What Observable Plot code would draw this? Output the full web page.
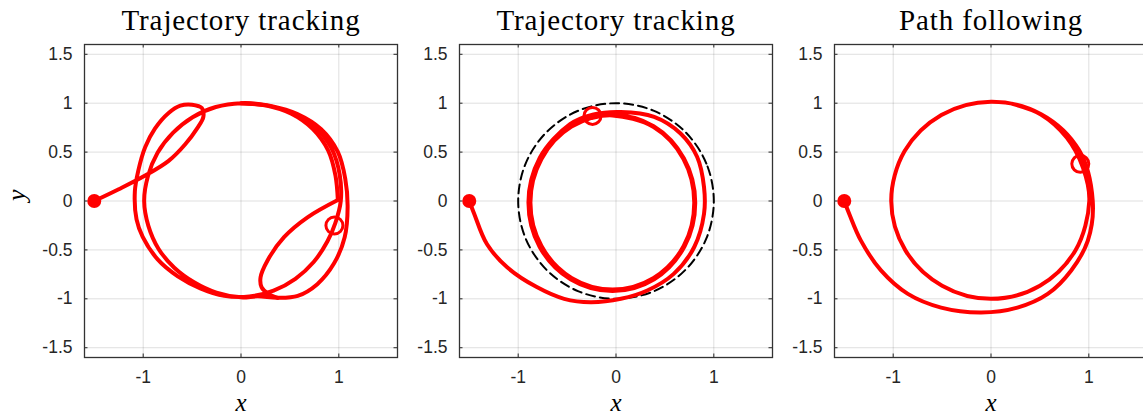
<!DOCTYPE html>
<html><head><meta charset="utf-8">
<script src="https://cdn.jsdelivr.net/npm/d3@7"></script>
<script src="https://cdn.jsdelivr.net/npm/@observablehq/plot@0.6"></script>
<style>
body{margin:0;background:#fff;}
#wrap{position:relative;width:1143px;height:416px;overflow:hidden;background:#fff;}
#wrap svg{position:absolute;top:0;}
</style></head><body><div id="wrap"></div>
<script>
// ---- data ----
const xTicks = [-1, 0, 1];
const yTicks = [-1.5, -1, -0.5, 0, 0.5, 1, 1.5];
const titles = ["Trajectory tracking", "Trajectory tracking", "Path following"];
const axisLabels = ["x", "y"];

// Panel 1: trajectory tracking (with loops)
const p1Main = [[-1.5,0],[-1.25,0.12],[-0.98,0.26],[-0.74,0.41],[-0.57,0.58],[-0.45,0.74],[-0.385,0.86],[-0.40,0.95],[-0.50,0.985],[-0.62,0.975],[-0.74,0.90],[-0.88,0.74],[-0.98,0.55],[-1.05,0.31],[-1.085,0.10],[-1.068,-0.188],[-1.005,-0.366],[-0.852,-0.597],[-0.646,-0.77],[-0.416,-0.893],[-0.171,-0.97],[0.085,-0.976],[0.333,-0.916],[0.556,-0.795],[0.743,-0.6235],[0.884,-0.412],[0.965,-0.223],[1.02,0],[1.009,0.27],[0.927,0.535],[0.757,0.757],[0.5225,0.905],[0.263,0.98],[0,1.0],[-0.2575,0.961],[-0.495,0.857],[-0.696,0.696],[-0.853,0.4925],[-0.951,0.255],[-0.99,0],[-0.947,-0.254],[-0.844,-0.4875],[-0.682,-0.682],[-0.48,-0.831],[-0.251,-0.937],[0,-0.985],[0.172,-0.975],[0.375,-0.99],[0.58,-0.97],[0.78,-0.85],[0.95,-0.64],[1.06,-0.37],[1.09,-0.06],[1.066,0.227],[0.989,0.504],[0.817,0.736],[0.577,0.889],[0.315,0.97],[0,1.0]];
const p1Down = [[0,1.0],[0.261,0.976],[0.515,0.892],[0.735,0.735],[0.892,0.515],[0.966,0.259],[0.99,0.01]];
const p1Lobe = [[0.99,0.01],[0.68,-0.167],[0.44,-0.37],[0.27,-0.61],[0.2,-0.78],[0.21,-0.88],[0.28,-0.95],[0.375,-0.99]];
const p1Start = [-1.5, 0];
const p1End = [0.955, -0.25];

// Panel 2: trajectory tracking (spiral inside reference)
const p2Path = [[-1.5,0],[-1.45,-0.13],[-1.32,-0.44],[-1.11,-0.68],[-0.81,-0.88],[-0.53,-1.0],[-0.26,-1.035],[0.05,-1.0],[0.32,-0.915],[0.59,-0.745],[0.80,-0.47],[0.90,-0.13],[0.90,0.14],[0.83,0.45],[0.66,0.69],[0.39,0.86],[0.05,0.91],[-0.23,0.885],[-0.47,0.785],[-0.78,0.44],[-0.895,-0.015],[-0.78,-0.47],[-0.465,-0.80],[-0.035,-0.92],[0.39,-0.80],[0.70,-0.465],[0.81,-0.015],[0.695,0.435],[0.385,0.765],[-0.035,0.88],[-0.455,0.76],[-0.762,0.43],[-0.875,-0.015],[-0.762,-0.46],[-0.455,-0.786],[-0.035,-0.905],[0.385,-0.786],[0.692,-0.46],[0.80,-0.015],[0.69,0.43],[0.385,0.756],[-0.035,0.875],[-0.24,0.85]];
const p2Start = [-1.5, 0];
const p2End = [-0.24, 0.87];
const refCircle = [[1,0],[0.924,0.383],[0.707,0.707],[0.383,0.924],[0,1],[-0.383,0.924],[-0.707,0.707],[-0.924,0.383],[-1,0],[-0.924,-0.383],[-0.707,-0.707],[-0.383,-0.924],[0,-1],[0.383,-0.924],[0.707,-0.707],[0.924,-0.383]];

// Panel 3: path following
const p3Path = [[-1.5,0],[-1.45,-0.13],[-1.33,-0.405],[-1.125,-0.71],[-0.85,-0.95],[-0.51,-1.09],[-0.10,-1.14],[0.27,-1.09],[0.58,-0.95],[0.82,-0.71],[0.99,-0.405],[1.04,0],[0.90,0.52],[0.5125,0.888],[0,1.015],[-0.5075,0.879],[-0.883,0.51],[-1.02,0],[-0.875,-0.505],[-0.5,-0.866],[0,-1.0],[0.5,-0.866],[0.866,-0.5],[1.005,0],[0.94,0.342],[0.774,0.649],[0.51,0.885],[0.21,0.995]];
const p3Start = [-1.5, 0];
const p3End = [0.913, 0.38];

// ---- drawing ----
const W = 313, ML = 84, MR = 8, MT = 44, MB = 59;
const RED = "#ff0000", INK = "#262626";
const SERIF = "Liberation Serif, Times New Roman, serif";
const SANS = "Liberation Sans, Arial, sans-serif";
const px = d => d[0], py = d => d[1];

function panel({title, segs, start, end, ref, showY, left}) {
  const data = segs.flatMap((s, i) => s.map(p => ({x: p[0], y: p[1], seg: i})));
  const marks = [
    Plot.gridX(xTicks, {stroke: "#000", strokeOpacity: 0.13, strokeWidth: 1}),
    Plot.gridY(yTicks, {stroke: "#000", strokeOpacity: 0.13, strokeWidth: 1}),
    Plot.tickX(xTicks, {x: d => d, insetTop: W - 3.5, stroke: INK, strokeWidth: 1}),
    Plot.tickX(xTicks, {x: d => d, insetBottom: W - 3.5, stroke: INK, strokeWidth: 1}),
    Plot.tickY(yTicks, {y: d => d, insetRight: W - 3.5, stroke: INK, strokeWidth: 1}),
    Plot.tickY(yTicks, {y: d => d, insetLeft: W - 3.5, stroke: INK, strokeWidth: 1}),
    Plot.axisX(xTicks, {anchor: "bottom", tickSize: 0, tickPadding: 13, fontSize: 17.5, fontFamily: SANS, fill: INK, tickFormat: d => String(d), label: null}),
    Plot.axisY(yTicks, {anchor: "left", tickSize: 0, tickPadding: 12, fontSize: 17.5, fontFamily: SANS, fill: INK, tickFormat: d => String(d), label: null}),
  ];
  if (ref) marks.push(Plot.line(ref, {x: px, y: py, stroke: "#000", strokeWidth: 2, strokeDasharray: "9,5", curve: "catmull-rom-closed"}));
  marks.push(
    Plot.line(data, {x: "x", y: "y", z: "seg", stroke: RED, strokeWidth: 4, curve: "catmull-rom", strokeLinecap: "round", strokeLinejoin: "round"}),
    Plot.dot([start], {x: px, y: py, r: 7, fill: RED}),
    Plot.dot([end], {x: px, y: py, r: 8.5, stroke: RED, strokeWidth: 3, fill: "none"}),
    Plot.frame({stroke: "#333", strokeWidth: 1.3}),
    Plot.text([title], {text: d => d, frameAnchor: "top", dy: -23.5, lineAnchor: "middle", fontSize: 29, fontFamily: SERIF, fill: "#000"}),
    Plot.text([axisLabels[0]], {text: d => d, frameAnchor: "bottom", dy: 45, lineAnchor: "middle", fontSize: 25, fontStyle: "italic", fontFamily: SERIF, fill: "#000"})
  );
  if (showY) marks.push(Plot.text([axisLabels[1]], {text: d => d, frameAnchor: "left", dx: -68, rotate: -90, lineAnchor: "middle", fontSize: 26, fontStyle: "italic", fontFamily: SERIF, fill: "#000"}));
  const svg = Plot.plot({
    width: ML + W + MR, height: MT + W + MB,
    marginLeft: ML, marginRight: MR, marginTop: MT, marginBottom: MB,
    x: {domain: [-1.6, 1.6]}, y: {domain: [-1.6, 1.6]},
    style: {background: "transparent", overflow: "visible"},
    marks
  });
  // widen the title a little, as the reference's Computer Modern face is wider
  svg.querySelectorAll("text").forEach(t => { if (t.textContent === title) t.setAttribute("letter-spacing", "0.9"); });
  svg.style.left = (left - ML) + "px";
  document.getElementById("wrap").appendChild(svg);
}

panel({title: titles[0], segs: [p1Main, p1Down, p1Lobe], start: p1Start, end: p1End, showY: true, left: 84});
panel({title: titles[1], segs: [p2Path], start: p2Start, end: p2End, ref: refCircle, showY: false, left: 459});
panel({title: titles[2], segs: [p3Path], start: p3Start, end: p3End, showY: false, left: 833.5});
</script></body></html>
